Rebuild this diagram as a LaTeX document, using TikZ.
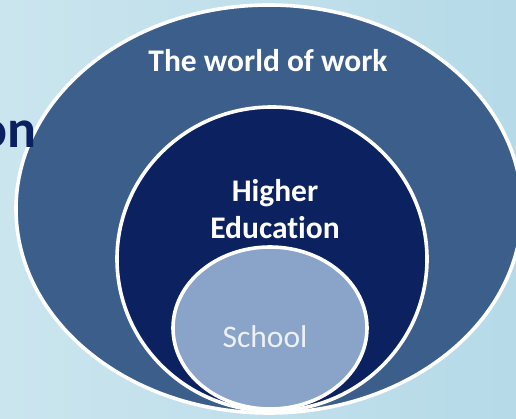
\documentclass[tikz,border=0pt]{standalone}
\usepackage{fontspec}
\setmainfont{Carlito}[Ligatures = NoCommon]
\definecolor{paleleft}{HTML}{CAE5EE}
\definecolor{paleright}{HTML}{B6DAE8}
\definecolor{worldblue}{HTML}{3C5E8A}
\definecolor{higherblue}{HTML}{0B2160}
\definecolor{schoolblue}{HTML}{89A3C9}
\definecolor{headnavy}{HTML}{0B2060}
\tikzset{
  ring/.style = {draw = white, line width = 3.6pt},
  label/.style = {text = white, font = \fontsize{31.5}{38}\selectfont\bfseries, align = center}
}
\begin{document}
\begin{tikzpicture}[x = 1pt, y = -1pt]
  \useasboundingbox (0,0) rectangle (516,419);
  \clip (0,0) rectangle (516,419);
  \shade[left color = paleleft, right color = paleright] (0,0) rectangle (516,419);
  % the three rings
  \draw[ring, fill = worldblue] (269,209) ellipse [x radius = 253pt, y radius = 204pt];
  \draw[ring, fill = higherblue] (272,259) ellipse [x radius = 155pt, y radius = 152pt];
  \draw[ring, fill = schoolblue] (270,328) ellipse [x radius = 97pt, y radius = 81pt];
  % texts
  \node[label, anchor = base] (world) at (268,72) {The world of work};
  \node[label, anchor = base] (higher) at (275,202) {Higher};
  \node[label, anchor = base] (education) at (275,239) {Education};
  \node[text = white!85!schoolblue, font = \fontsize{31.5}{38}\selectfont, anchor = base] (school) at (265,347) {School};
  \node[text = headnavy, font = \fontsize{54}{60}\selectfont\bfseries, anchor = base east, inner sep = 0pt] (head) at (37,148) {on};
\end{tikzpicture}
\end{document}
